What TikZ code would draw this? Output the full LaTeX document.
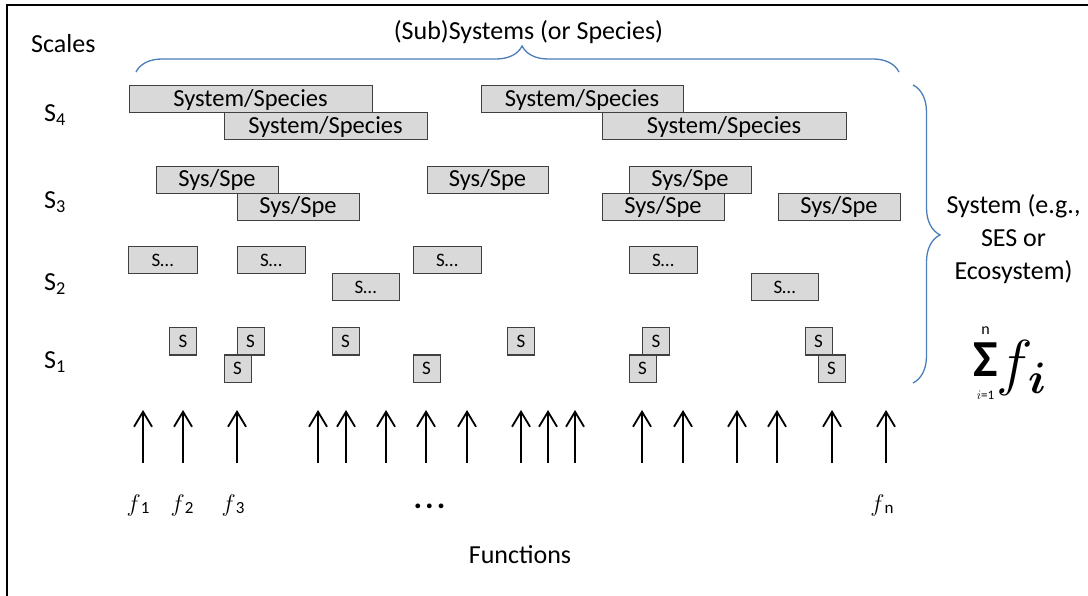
\RequirePackage{fix-cm}
\documentclass[tikz,border=0pt]{standalone}
\usepackage{amsmath}
\usepackage{fontspec}
\setmainfont{Carlito}
\usetikzlibrary{arrows.meta,decorations.pathreplacing}
\definecolor{bracecol}{RGB}{74,126,187}
\definecolor{boxfill}{RGB}{217,217,217}
\definecolor{boxline}{RGB}{64,64,64}
\begin{document}
\begin{tikzpicture}[x=1pt,y=-1pt,
  unit/.style={draw=boxline, fill=boxfill, line width=1pt, inner sep=0pt, minimum height=27pt},
  bigunit/.style={unit, font=\fontsize{24.5}{28}\selectfont},
  smallunit/.style={unit, font=\fontsize{19}{22}\selectfont},
  scaletext/.style={font=\fontsize{26}{30}\selectfont, inner sep=0pt},
  fnlabel/.style={font=\fontsize{24}{26}\selectfont, inner sep=0pt, anchor=base},
  bracepath/.style={draw=bracecol, line width=1.3pt, decorate},
  fnarrow/.style={line width=1.8pt, -{Straight Barb[length=15pt,width=18pt]}}
]
\useasboundingbox (0,0) rectangle (1088,596);
\fill[white] (0,0) rectangle (1088,596);

% frame (top and left edges)
\draw[line width=2pt] (7,596) -- (7,5) -- (1088,5);

% headings
\node[scaletext, anchor=base west] (scales) at (31,52.5) {Scales};
\node[scaletext, anchor=base] (subsys) at (528.5,40) {(Sub)Systems (or Species)};
\node[scaletext, anchor=base] (functions) at (520,563) {Functions};

% scale labels
\node[scaletext, anchor=base west] (s4) at (44,122) {S\textsubscript{4}};
\node[scaletext, anchor=base west] (s3) at (44,209) {S\textsubscript{3}};
\node[scaletext, anchor=base west] (s2) at (44,291) {S\textsubscript{2}};
\node[scaletext, anchor=base west] (s1) at (44,369) {S\textsubscript{1}};

% braces
\draw[bracepath, decoration={brace, amplitude=26pt, aspect=0.506}] (136,72) -- (899,72);
\draw[bracepath, decoration={brace, amplitude=27pt, aspect=0.503}] (913,85) -- (913,383);

% system description
\node[scaletext, anchor=base] (sysa) at (1013.5,214) {System (e.g.,};
\node[scaletext, anchor=base] (sysb) at (1013.5,247) {SES or};
\node[scaletext, anchor=base] (sysc) at (1013.5,280) {Ecosystem)};

% sum of functions
\node[inner sep=0pt, font=\fontsize{52}{52}\selectfont\bfseries] (sigma) at (985.5,359.5) {Σ};
\node[inner sep=0pt, font=\fontsize{16}{16}\selectfont] (supn) at (985.5,331) {n};
\node[inner sep=0pt, font=\fontsize{13}{13}\selectfont] (subi) at (985.5,395) {$i$=1};
\node[inner sep=0pt, font=\fontsize{62}{62}\selectfont] (bigf) at (1015,368.5) {$f$};
\node[inner sep=0pt, font=\fontsize{44}{44}\selectfont, anchor=base] (bigi) at (1037,393) {$\boldsymbol{i}$};

% scale S4
\node[bigunit, minimum width=243pt] (a4) at (250.5,99.5) {System/Species};
\node[bigunit, minimum width=203pt] (b4) at (325.5,126.5) {System/Species};
\node[bigunit, minimum width=202pt] (c4) at (582,99.5) {System/Species};
\node[bigunit, minimum width=244pt] (d4) at (724,126.5) {System/Species};

% scale S3
\node[bigunit, minimum width=122pt] (a3) at (217,180) {Sys/Spe};
\node[bigunit, minimum width=122pt] (b3) at (298,207) {Sys/Spe};
\node[bigunit, minimum width=121pt] (c3) at (487.5,180) {Sys/Spe};
\node[bigunit, minimum width=122pt] (d3) at (690,180) {Sys/Spe};
\node[bigunit, minimum width=122pt] (e3) at (663,207) {Sys/Spe};
\node[bigunit, minimum width=122pt] (f3) at (839,207) {Sys/Spe};

% scale S2
\node[smallunit, minimum width=69pt] (a2) at (162.5,260.5) {S…};
\node[smallunit, minimum width=68pt] (b2) at (271,260.5) {S…};
\node[smallunit, minimum width=67pt] (c2) at (365.5,287.5) {S…};
\node[smallunit, minimum width=68pt] (d2) at (447,260.5) {S…};
\node[smallunit, minimum width=68pt] (e2) at (663,260.5) {S…};
\node[smallunit, minimum width=67pt] (f2) at (784.5,287.5) {S…};

% scale S1
\node[smallunit, minimum width=27pt] (a1) at (183,341.5) {S};
\node[smallunit, minimum width=27pt] (b1) at (250.5,341.5) {S};
\node[smallunit, minimum width=27pt] (c1) at (237.5,368.5) {S};
\node[smallunit, minimum width=27pt] (d1) at (345.5,341.5) {S};
\node[smallunit, minimum width=27pt] (e1) at (426.5,368.5) {S};
\node[smallunit, minimum width=27pt] (g1) at (521,341.5) {S};
\node[smallunit, minimum width=27pt] (h1) at (656,341.5) {S};
\node[smallunit, minimum width=27pt] (i1) at (642.5,368.5) {S};
\node[smallunit, minimum width=27pt] (j1) at (818.5,341.5) {S};
\node[smallunit, minimum width=27pt] (k1) at (831.5,368.5) {S};

% function arrows
\foreach \x [count=\k] in {143,183,237,318,346,386,426,467,521,548,575,642,683,737,777,832,886} {
  \coordinate (fb\k) at (\x,463);
  \coordinate (ft\k) at (\x,410);
  \draw[fnarrow] (fb\k) -- (ft\k);
}

% function labels
\node[fnlabel] (lf1) at (138,511) {$f$\raisebox{-2pt}{\fontsize{17}{17}\selectfont 1}};
\node[fnlabel] (lf2) at (182,511) {$f$\raisebox{-2pt}{\fontsize{17}{17}\selectfont 2}};
\node[fnlabel] (lf3) at (233,511) {$f$\raisebox{-2pt}{\fontsize{17}{17}\selectfont 3}};
\node[fnlabel, font=\fontsize{32}{34}\selectfont\bfseries] (ldots) at (429.5,508) {.\kern3pt.\kern3pt.};
\node[fnlabel] (lfn) at (882,511) {$f$\raisebox{-2pt}{\fontsize{17}{17}\selectfont n}};
\end{tikzpicture}
\end{document}
